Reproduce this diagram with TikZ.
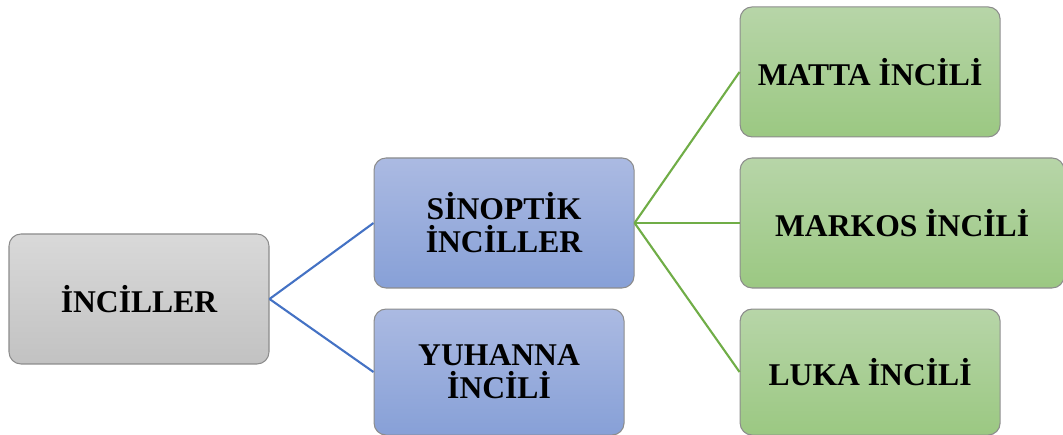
\documentclass[tikz,border=0pt]{standalone}
\usepackage{fontspec}
\setmainfont{Liberation Serif}
\usetikzlibrary{positioning}

\definecolor{edgeblue}{RGB}{68,114,196}
\definecolor{edgegreen}{RGB}{112,173,71}

\tikzset{
  box/.style={draw=gray!90, line width=0.6pt, rounded corners=0.24cm,
              minimum height=2.6cm, minimum width=5.2cm, align=center,
              font=\fontsize{18}{18.8}\selectfont\bfseries},
  graybox/.style={box, top color=black!15, bottom color=black!24},
  bluebox/.style={box, top color={rgb,255:red,171;green,186;blue,226},
                  bottom color={rgb,255:red,135;green,160;blue,215}},
  greenbox/.style={box, top color={rgb,255:red,183;green,213;blue,168},
                   bottom color={rgb,255:red,155;green,200;blue,130}},
  blueline/.style={draw=edgeblue, line width=1.2pt},
  greenline/.style={draw=edgegreen, line width=1.2pt}
}

\begin{document}
\begin{tikzpicture}

\useasboundingbox (0,0) rectangle (21.26,8.7);

% -----------------------------------------------------
%  root
% -----------------------------------------------------
\node[graybox] (inciller) at (2.78,2.72) {İNCİLLER};

% -----------------------------------------------------
%  second level
% -----------------------------------------------------
\node[bluebox, right=2.08cm of inciller, yshift=1.52cm] (sinoptik)
      {SİNOPTİK\\ İNCİLLER};
\node[bluebox, minimum width=5.0cm, minimum height=2.52cm,
      below=0.4cm of sinoptik.south west, anchor=north west] (yuhanna)
      {YUHANNA\\ İNCİLİ};

\draw[blueline] (inciller.east) -- (sinoptik.west);
\draw[blueline] (inciller.east) -- (yuhanna.west);

% -----------------------------------------------------
%  synoptic gospels
% -----------------------------------------------------
\node[greenbox, minimum width=6.48cm, right=2.1cm of sinoptik] (markos)
      {MARKOS İNCİLİ};
\node[greenbox, above=0.4cm of markos.north west, anchor=south west] (matta)
      {MATTA İNCİLİ};
\node[greenbox, minimum height=2.52cm,
      below=0.4cm of markos.south west, anchor=north west] (luka)
      {LUKA İNCİLİ};

\foreach \g in {matta, markos, luka}{
  \draw[greenline] (sinoptik.east) -- (\g.west);
}

\end{tikzpicture}
\end{document}
